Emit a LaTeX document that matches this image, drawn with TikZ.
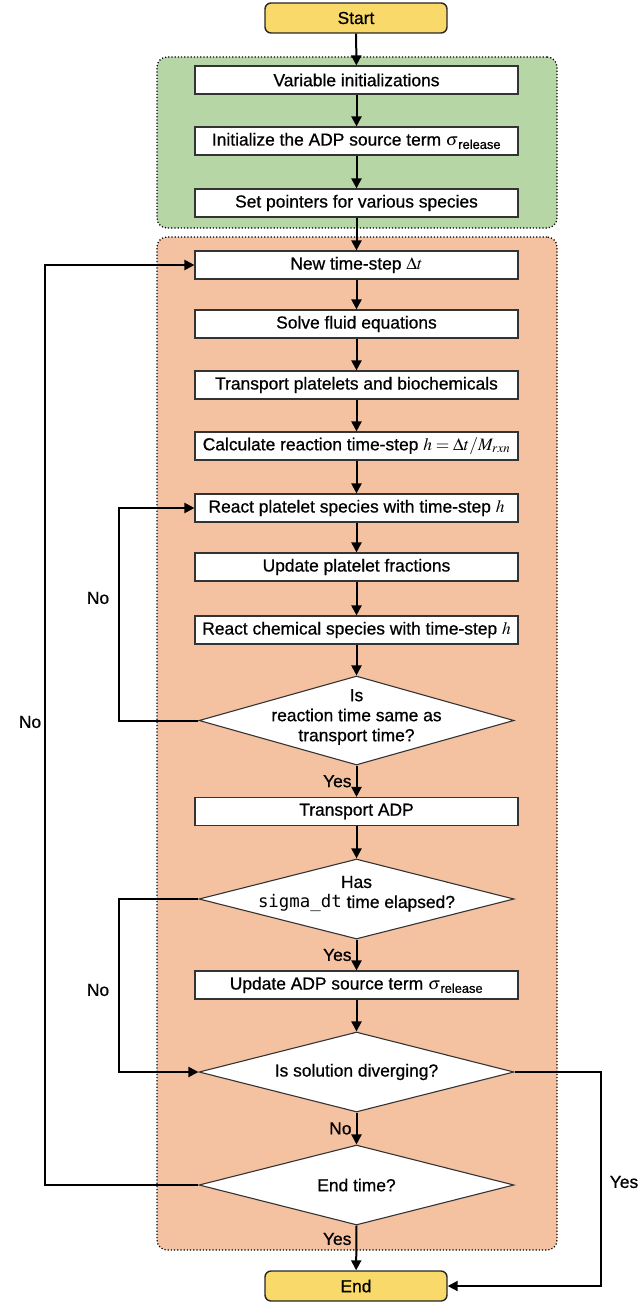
\documentclass[tikz,border=0pt]{standalone}
\usepackage{mathptmx}
\usepackage[no-math]{fontspec}
\setmainfont[FakeBold=0.7]{Liberation Sans}
\setmonofont{DejaVu Sans Mono}
\usetikzlibrary{shapes.geometric,arrows.meta}
\definecolor{termfill}{RGB}{249,217,106}
\definecolor{grpgreen}{RGB}{182,214,165}
\definecolor{grporange}{RGB}{244,194,161}
\newcommand{\mainfs}{\fontsize{17.4}{20}\selectfont}
\begin{document}
\begin{tikzpicture}[x=1pt,y=-1pt,
  box/.style={draw=black!80, fill=white, line width=1.1pt, minimum width=323pt, minimum height=28pt, inner sep=0pt, font=\mainfs},
  term/.style={draw=black!85, fill=termfill, rounded corners=6pt, line width=1.4pt, minimum width=182pt, minimum height=30pt, inner sep=0pt, font=\mainfs},
  dia/.style={shape=diamond, draw=black!80, fill=white, line width=1.1pt, inner sep=0pt, minimum width=315pt, minimum height=80pt},
  dtext/.style={align=center, font=\mainfs, inner sep=0pt},
  region/.style={draw=black, dotted, line width=1.2pt, rounded corners=10pt, inner sep=0pt},
  arr/.style={-{Triangle[length=10pt,width=10pt]}, line width=2pt},
  lbl/.style={font=\mainfs, inner sep=0pt}]
\useasboundingbox (0,0) rectangle (639,1306);
% regions
\node[region, fill=grpgreen, minimum width=400pt, minimum height=171pt] (g1) at (357,142.5) {};
\node[region, fill=grporange, minimum width=400pt, minimum height=1013pt] (g2) at (357,743.5) {};
% terminals
\node[term] (start) at (356,18) {Start};
\node[term] (end) at (356,1286) {End};
% boxes
\node[box] (b1) at (356.5,80) {Variable initializations};
\node[box] (b2) at (356.5,141) {Initialize the ADP source term $\sigma$\textsubscript{release}};
\node[box] (b3) at (356.5,203) {Set pointers for various species};
\node[box] (b4) at (356.5,265) {New time-step $\Delta t$};
\node[box] (b5) at (356.5,324) {Solve fluid equations};
\node[box] (b6) at (356.5,385) {Transport platelets and biochemicals};
\node[box] (b7) at (356.5,446) {Calculate reaction time-step $h=\Delta t/M_{rxn}$};
\node[box] (b8) at (356.5,508) {React platelet species with time-step $h$};
\node[box] (b9) at (356.5,567) {Update platelet fractions};
\node[box] (b10) at (356.5,630) {React chemical species with time-step $h$};
\node[dia, minimum height=89pt] (d1) at (356.5,720.5) {};
\node[dtext] (d1t) at (356.5,717) {Is\\reaction time same as\\transport time?};
\node[box] (b11) at (356.5,811.5) {Transport ADP};
\node[dia] (d2) at (356.5,899) {};
\node[dtext] (d2t) at (356.5,894) {Has\\{\ttfamily sigma\_dt} time elapsed?};
\node[box] (b12) at (356.5,985) {Update ADP source term $\sigma$\textsubscript{release}};
\node[dia] (d3) at (356.5,1072) {};
\node[dtext] (d3t) at (d3) {Is solution diverging?};
\node[dia] (d4) at (356.5,1185) {};
\node[dtext] (d4t) at (d4) {End time?};
% coordinates for loops
\coordinate (lx) at (119,0);
\coordinate (ox) at (45,0);
\coordinate (rx) at (601,0);
% straight arrows
\draw[arr] (start) -- (b1);
\draw[arr] (b1) -- (b2);
\draw[arr] (b2) -- (b3);
\draw[arr] (b3) -- (b4);
\draw[arr] (b4) -- (b5);
\draw[arr] (b5) -- (b6);
\draw[arr] (b6) -- (b7);
\draw[arr] (b7) -- (b8);
\draw[arr] (b8) -- (b9);
\draw[arr] (b9) -- (b10);
\draw[arr] (b10) -- (d1.north);
\draw[arr] (d1.south) -- node[lbl, left=4pt] {Yes} (b11);
\draw[arr] (b11) -- (d2.north);
\draw[arr] (d2.south) -- node[lbl, left=4pt] {Yes} (b12);
\draw[arr] (b12) -- (d3.north);
\draw[arr] (d3.south) -- node[lbl, left=4pt] {No} (d4.north);
\draw[arr] (d4.south) -- node[lbl, left=4pt, pos=0.3] {Yes} (end);
% loops
\draw[arr] (d1.west) -- (d1.west -| lx) |- (b8.west);
\draw[arr] (d2.west) -- (d2.west -| lx) |- (d3.west);
\draw[arr] (d4.west) -- (d4.west -| ox) |- (b4.west);
\draw[arr] (d3.east) -- (d3.east -| rx) |- (end.east);
% side labels
\node[lbl] (no1) at (98,598) {No};
\node[lbl] (no2) at (98,990) {No};
\node[lbl] (no3) at (30,722) {No};
\node[lbl] (yes1) at (624,1182) {Yes};
\end{tikzpicture}
\end{document}
